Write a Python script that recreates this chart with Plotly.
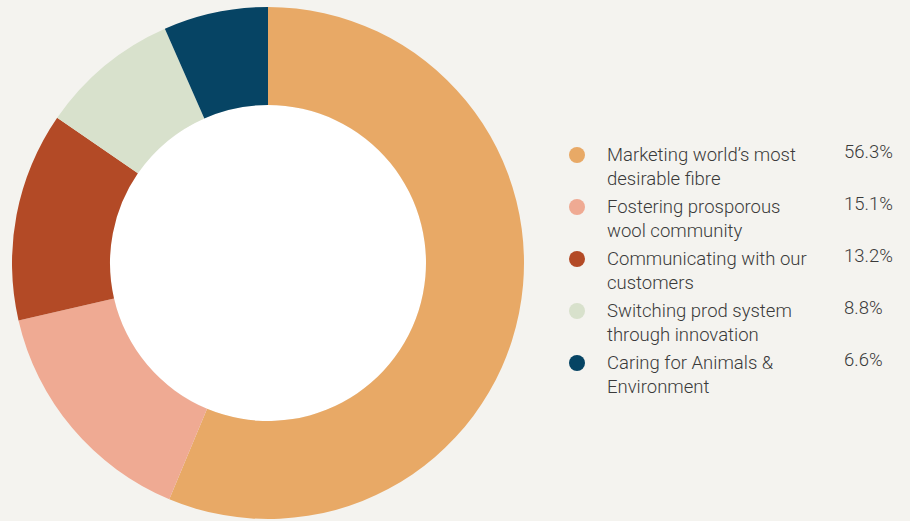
import plotly.graph_objects as go

# Share of spend by strategic pillar
labels = [
    "Marketing world’s most<br>desirable fibre",
    "Fostering prosporous<br>wool community",
    "Communicating with our<br>customers",
    "Switching prod system<br>through innovation",
    "Caring for Animals &<br>Environment",
]
values = [56.3, 15.1, 13.2, 8.8, 6.6]
pct_labels = ["56.3%", "15.1%", "13.2%", "8.8%", "6.6%"]
colors = ["#E8A966", "#EFAA93", "#B34A26", "#D8E1CC", "#064464"]

W, H = 910, 521
BG = "#F4F3EF"
FONT = "Roboto"
TEXT = "#3A3A3A"

# donut geometry (pixels)
cx, cy, r_out, r_in = 268, 263, 256, 158

fig = go.Figure()
fig.add_trace(go.Pie(
    labels=labels,
    values=values,
    marker=dict(colors=colors, line=dict(width=0)),
    sort=False,
    direction="clockwise",
    rotation=0,
    hole=r_in / r_out,
    textinfo="none",
    hoverinfo="label+percent",
    showlegend=False,
    domain=dict(x=[(cx - r_out) / W, (cx + r_out) / W],
                y=[(H - cy - r_out) / H, (H - cy + r_out) / H]),
))

# custom legend: markers on a hidden pixel-space axis
row0, pitch = 155, 52
rows = [row0 + i * pitch for i in range(len(labels))]
fig.add_trace(go.Scatter(
    x=[577] * len(labels), y=rows, mode="markers",
    marker=dict(size=16, color=colors, line=dict(width=0)),
    hoverinfo="skip", showlegend=False,
))

font = dict(family=FONT, size=18.5, color=TEXT, weight=300)
annotations = []
for lab, pct, y in zip(labels, pct_labels, rows):
    annotations.append(dict(
        x=605, y=y, xref="x", yref="y", text=lab, showarrow=False,
        xanchor="left", yanchor="top", align="left",
        font=font, yshift=13,
    ))
    annotations.append(dict(
        x=842, y=y - 3, xref="x", yref="y", text=pct, showarrow=False,
        xanchor="left", yanchor="middle", align="left",
        font=font,
    ))

fig.update_layout(
    width=W, height=H,
    margin=dict(l=0, r=0, t=0, b=0),
    paper_bgcolor=BG, plot_bgcolor="rgba(0,0,0,0)",
    xaxis=dict(range=[0, W], visible=False, fixedrange=True),
    yaxis=dict(range=[H, 0], visible=False, fixedrange=True),
    annotations=annotations,
    shapes=[dict(type="circle", xref="x", yref="y", layer="below",
                 x0=cx - r_in, x1=cx + r_in, y0=cy - r_in, y1=cy + r_in,
                 fillcolor="white", line=dict(width=0))],
)

fig.write_html("out.html")
